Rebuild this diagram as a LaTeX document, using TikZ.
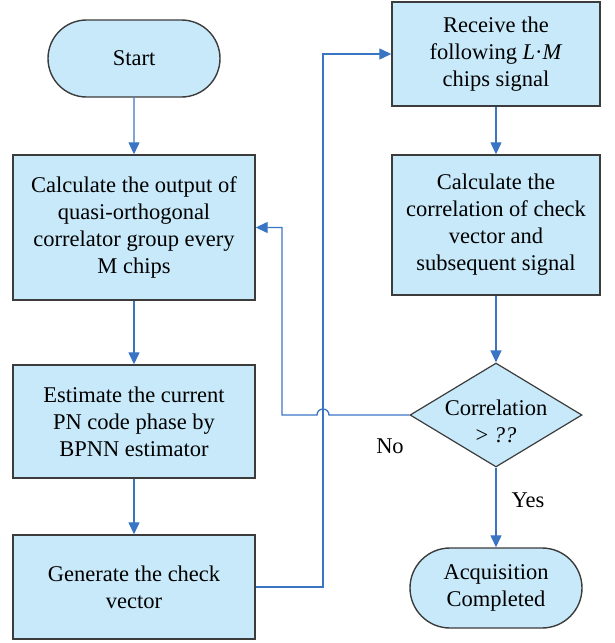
\documentclass[tikz,border=0pt]{standalone}
\usepackage{fontspec}
\setmainfont{Liberation Serif}
\usetikzlibrary{arrows.meta,shapes.geometric,shapes.misc}
\definecolor{boxfill}{RGB}{199,233,250}
\definecolor{boxdraw}{RGB}{60,60,60}
\definecolor{arrowblue}{RGB}{58,117,196}
\begin{document}
\begin{tikzpicture}[x=1pt,y=1pt,
  every node/.style={font=\fontsize{22.5}{27}\selectfont, align=center, inner sep=0pt},
  procbox/.style={rectangle, draw=boxdraw, fill=boxfill, line width=1.4pt},
  termbox/.style={rounded rectangle, draw=boxdraw, fill=boxfill, line width=1.4pt},
  decbox/.style={diamond, draw=boxdraw, fill=boxfill, line width=1.2pt},
  conn/.style={draw=arrowblue, line width=1.3pt, -{Triangle[length=12pt,width=11pt]}},
  plainconn/.style={draw=arrowblue, line width=1.3pt}]
\useasboundingbox (0,0) rectangle (615,-643);
% left column
\node[termbox, minimum width=172pt, minimum height=77pt] (start) at (134,-58.5) {Start};
\node[procbox, minimum width=242pt, minimum height=145pt] (calc) at (134,-227.5)
  {Calculate the output of\\quasi-orthogonal\\correlator group every\\M chips};
\node[procbox, minimum width=242pt, minimum height=113pt] (est) at (134,-421.5)
  {Estimate the current\\PN code phase by\\BPNN estimator};
\node[procbox, minimum width=242pt, minimum height=104pt] (gen) at (134,-587)
  {Generate the check\\vector};
% right column
\node[procbox, minimum width=208pt, minimum height=104pt] (recv) at (496,-54)
  {Receive the\\following \textit{L}·\textit{M}\\chips signal};
\node[procbox, minimum width=208pt, minimum height=140pt] (corr) at (496,-225)
  {Calculate the\\correlation of check\\vector and\\subsequent signal};
\node[decbox, minimum width=172pt, minimum height=104pt] (dec) at (496,-415) {};
\node (dectext) at (496,-421) {Correlation\\> \textit{??}};
\node[termbox, minimum width=172pt, minimum height=80pt] (acq) at (496,-588)
  {Acquisition\\Completed};
% labels
\node (no) at (390,-446) {No};
\node (yes) at (528,-500) {Yes};
% connectors
\draw[conn] (start) -- (calc);
\draw[conn] (calc) -- (est);
\draw[conn] (est) -- (gen);
\draw[conn] (recv) -- (corr);
\draw[conn] (corr) -- (dec);
\draw[conn] (dec) -- (acq);
\coordinate (gturn) at (323,-587);
\draw[conn] (gen.east) -- (gturn) |- (recv.west);
\coordinate (bridgeR) at (329,-415);
\coordinate (nturn) at (282,-415);
\draw[conn] (dec.west) -- (bridgeR) arc (0:180:6pt) -- (nturn) |- (calc.east);
\end{tikzpicture}
\end{document}
